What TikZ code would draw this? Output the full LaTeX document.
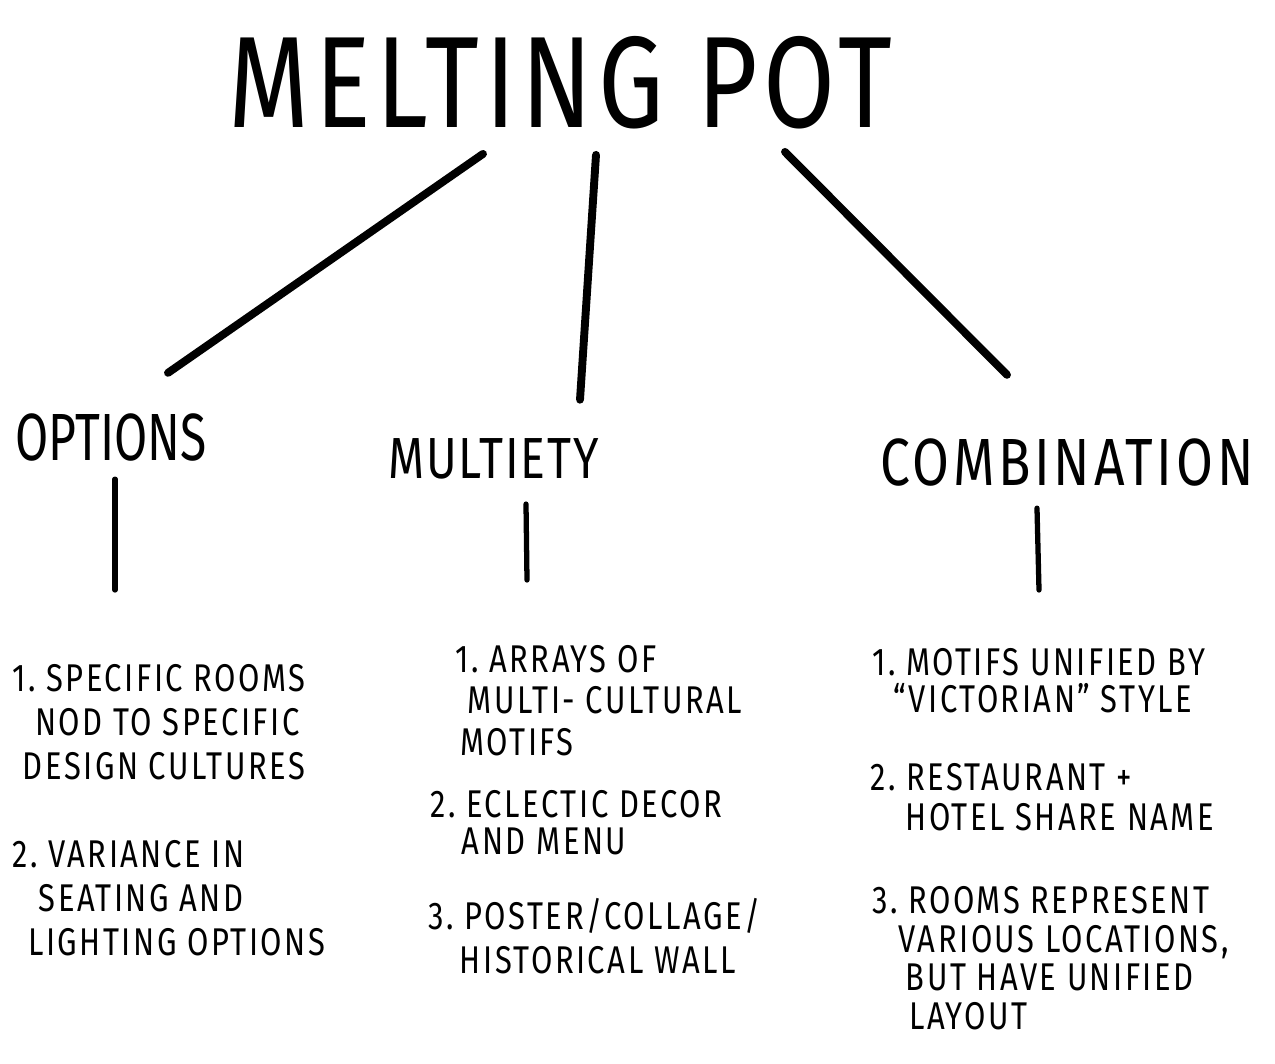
\documentclass[tikz,border=0pt]{standalone}
\usepackage{fontspec}
\setmainfont{Fira Sans}
\newfontfamily\handfont[FakeStretch=0.8]{Fira Sans}
\newfontfamily\itemfont[FakeStretch=0.8,LetterSpace=6.5]{Fira Sans}
\usetikzlibrary{calc}
\tikzset{
  title/.style={inner sep=0pt,anchor=base west,font=\handfont\addfontfeatures{LetterSpace=4.5}\fontsize{74}{80}\selectfont},
  heading/.style={inner sep=0pt,anchor=base west,font=\handfont\fontsize{38}{40}\selectfont},
  item/.style={inner sep=0pt,anchor=north west,align=left,font=\itemfont\fontsize{22}{25}\selectfont},
  branch/.style={line width=4.5pt,line cap=round},
  stem/.style={line width=3pt,line cap=round}
}
\begin{document}
\begin{tikzpicture}[x=0.02cm,y=-0.02cm]
\useasboundingbox (0,0) rectangle (1275,1064);
\node[title] (pot) at (228,128) {MELTING POT};
\node[heading,font=\handfont\addfontfeatures{FakeStretch=0.72}\fontsize{38}{40}\selectfont] (options) at (15,460) {OPTIONS};
\node[heading,font=\handfont\addfontfeatures{LetterSpace=3}\fontsize{33}{36}\selectfont] (multiety) at (388,478) {MULTIETY};
\node[heading,font=\handfont\addfontfeatures{LetterSpace=5.5}\fontsize{38}{40}\selectfont] (combination) at (880,485) {COMBINATION};
% options column
\node[item] (opt1) at (12,664) {1.\ SPECIFIC ROOMS\\\hspace*{13pt}NOD TO SPECIFIC\\\hspace*{6pt}DESIGN CULTURES};
\node[item] (opt2) at (12,840) {2.\ VARIANCE IN\\\hspace*{15pt}SEATING AND\\\hspace*{9pt}LIGHTING OPTIONS};
% multiety column
\node[item,font=\itemfont\fontsize{22}{23.5}\selectfont] (mul1) at (455,645) {1.\ ARRAYS OF\\\hspace*{7pt}MULTI- CULTURAL\\\hspace*{3pt}MOTIFS};
\node[item,font=\itemfont\fontsize{22}{21}\selectfont] (mul2) at (430,790) {2.\ ECLECTIC DECOR\\\hspace*{18pt}AND MENU};
\node[item] (mul3) at (428,898) {3.\ POSTER/COLLAGE/\\\hspace*{18pt}HISTORICAL WALL};
% combination column
\node[item,font=\itemfont\fontsize{22}{21}\selectfont] (com1) at (872,648) {1.\ MOTIFS UNIFIED BY\\\hspace*{12pt}“VICTORIAN” STYLE};
\node[item,font=\itemfont\fontsize{22}{23}\selectfont] (com2) at (870,763) {2.\ RESTAURANT +\\\hspace*{20pt}HOTEL SHARE NAME};
\node[item,font=\itemfont\fontsize{22}{22}\selectfont] (com3) at (872,886) {3.\ ROOMS REPRESENT\\\hspace*{15pt}VARIOUS LOCATIONS,\\\hspace*{19pt}BUT HAVE UNIFIED\\\hspace*{21pt}LAYOUT};
% branches
\draw[branch] ($(pot.south west)+(255,24)$) -- ($(options.north west)+(153,-40)$);
\draw[branch] ($(pot.south west)+(368,25)$) -- ($(multiety.north west)+(192,-38)$);
\draw[branch] ($(pot.south west)+(557,22)$) -- ($(combination.north west)+(127,-63)$);
\draw[stem] ($(options.south west)+(100,18)$) -- ($(opt1.north west)+(103,-74)$);
\draw[stem] ($(multiety.south west)+(138,25)$) -- ($(mul1.north west)+(72,-65)$);
\draw[stem] ($(combination.south west)+(157,22)$) -- ($(com1.north west)+(167,-58)$);
\end{tikzpicture}
\end{document}
